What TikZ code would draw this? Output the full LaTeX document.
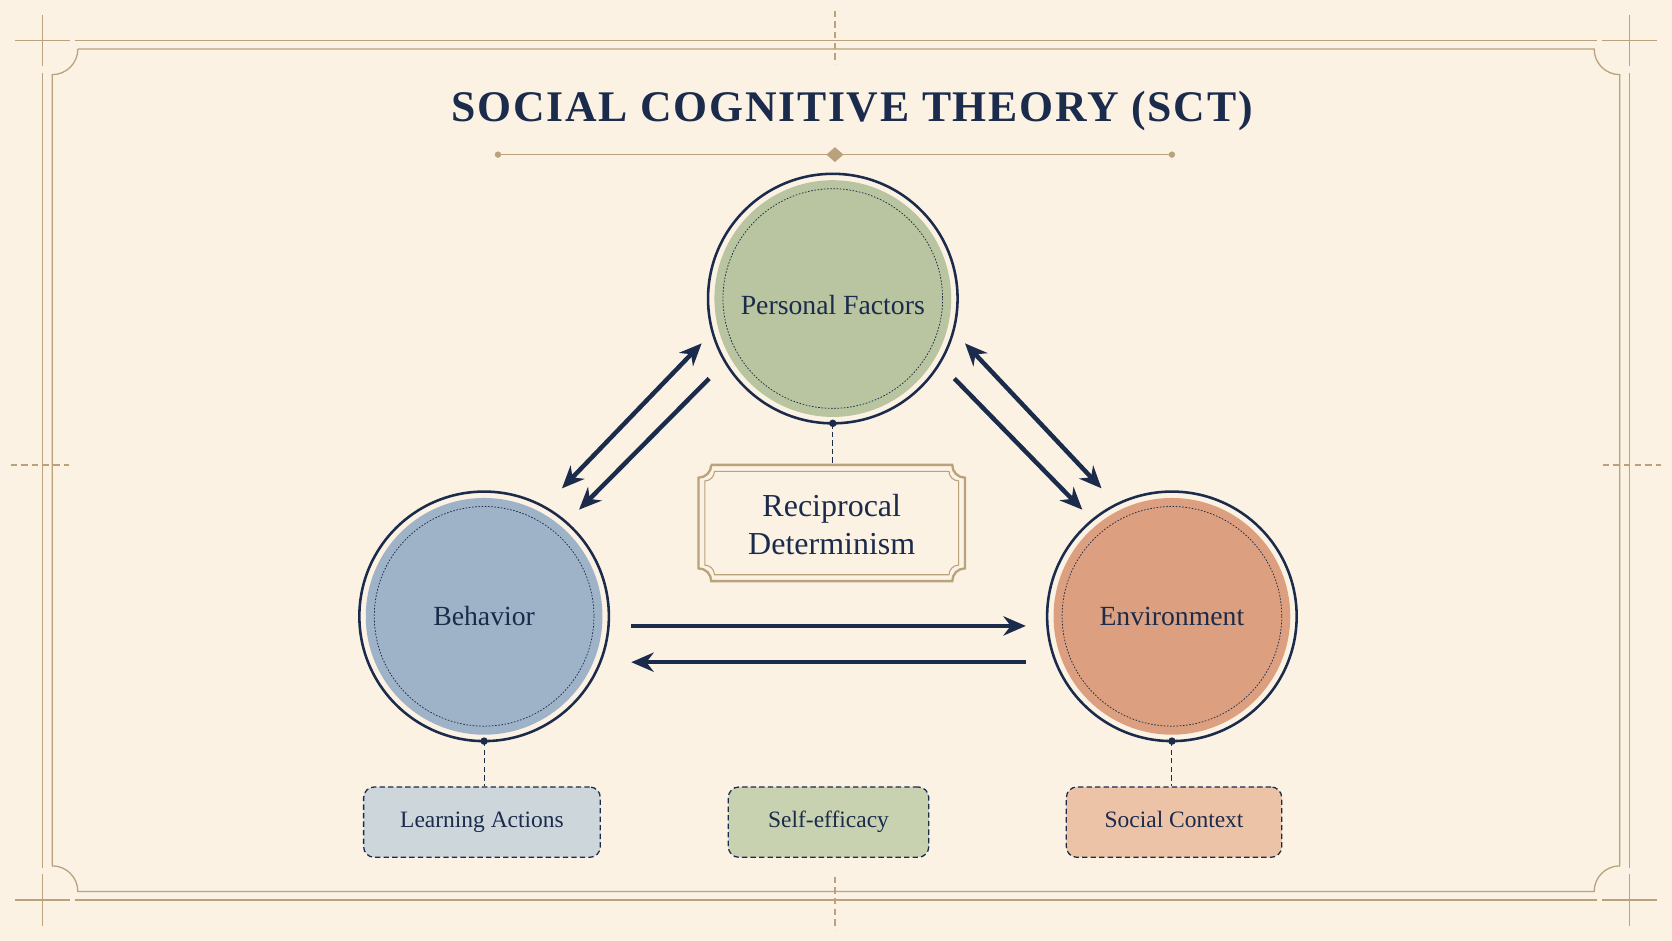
\documentclass[tikz,border=0pt]{standalone}
\usepackage{fontspec}
\setmainfont{Liberation Serif}
\usetikzlibrary{arrows.meta}
\definecolor{bg}{HTML}{FBF2E4}
\definecolor{navy}{HTML}{1B2B4B}
\definecolor{gold}{HTML}{B9A27C}
\definecolor{pgreen}{HTML}{B9C4A0}
\definecolor{pblue}{HTML}{9FB3C8}
\definecolor{porange}{HTML}{DCA080}
\definecolor{lblue}{HTML}{CDD6DB}
\definecolor{lgreen}{HTML}{C8D2B0}
\definecolor{lorange}{HTML}{EDC3A8}
\begin{document}
\begin{tikzpicture}[x=1pt,y=-1pt,
  frame/.style={draw=gold,line width=1.2pt},
  arr/.style={draw=navy,line width=4.2pt,-{Stealth[length=21pt,width=18pt]}},
  darr/.style={draw=navy,line width=4.2pt,{Stealth[length=21pt,width=18pt]}-{Stealth[length=21pt,width=18pt]}},
  conn/.style={draw=navy,line width=1pt,dash pattern=on 5pt off 3pt},
  lab/.style={text=navy,font=\fontsize{26}{30}\selectfont,align=center},
  small/.style={draw=navy,line width=1.2pt,dash pattern=on 5pt off 3pt,rounded corners=10pt,minimum width=#1,minimum height=66pt,text height=15pt,text depth=5pt,text=navy,font=\fontsize{22}{26}\selectfont}]
\fill[bg] (0,0) rectangle (1568,882);
\useasboundingbox (0,0) rectangle (1568,882);
% frame
\draw[frame] (70,38)--(1498,38) (1528,68)--(1528,814) (70,844)--(1498,844) (40,68)--(40,814);
\draw[frame] (73,46)--(1495,46) arc[start angle=180,end angle=90,radius=24] --(1519,812) arc[start angle=-90,end angle=-180,radius=24] --(73,836) arc[start angle=0,end angle=-90,radius=24] -- (49,70) arc[start angle=90,end angle=0,radius=24];
\foreach \x/\y in {40/38,1528/38,40/844,1528/844}{\draw[frame] ([xshift=-26pt]\x,\y)--([xshift=26pt]\x,\y) ([yshift=-24pt]\x,\y)--([yshift=24pt]\x,\y);}
\draw[frame,dash pattern=on 6pt off 4pt] (783,10)--(783,60) (783,822)--(783,872) (10,436)--(65,436) (1503,436)--(1558,436);
% title
\node (title) at (799,104) {\color{navy}\fontsize{41}{46}\selectfont\bfseries\addfontfeatures{LetterSpace=4}SOCIAL COGNITIVE THEORY (SCT)};
\draw[gold,line width=1.5pt] (467,145)--(1099,145);
\fill[gold] (467,145) circle (3pt) (1099,145) circle (3pt) (775,145)--(783,138)--(791,145)--(783,152)--cycle;
% circles
\foreach \n/\x/\y/\c in {pf/781/280/pgreen,be/454/578/pblue,en/1099/578/porange}{
  \fill[bg] (\x,\y) circle (118);
  \draw[navy,line width=2.4pt] (\x,\y) circle (117);
  \fill[\c] (\x,\y) circle (111);
  \draw[navy,line width=0.7pt,dash pattern=on 1.5pt off 1.5pt] (\x,\y) circle (103);
  \coordinate (\n) at (\x,\y);
  \fill[navy] (\x,\y+117) circle (3.5pt);
}
\node[lab] at (781,286) {Personal Factors};
\node[lab] at (be) {Behavior};
\node[lab] at (en) {Environment};
% arrows
\draw[darr] (527,458)--(658,322);
\draw[arr] (665,355)--(543,478);
\draw[darr] (905,322)--(1033,458);
\draw[arr] (895,355)--(1015,478);
\draw[arr] (592,587)--(962,587);
\draw[arr] (962,621)--(592,621);
% reciprocal box
\draw[gold,line width=2.2pt] (667,436)--(893,436) arc[start angle=180,end angle=90,radius=12] --(905,533) arc[start angle=-90,end angle=-180,radius=12] --(667,545) arc[start angle=0,end angle=-90,radius=12] --(655,448) arc[start angle=90,end angle=0,radius=12];
\draw[gold,line width=1pt] (670,442)--(890,442) arc[start angle=180,end angle=90,radius=9] --(899,530) arc[start angle=-90,end angle=-180,radius=9] --(670,539) arc[start angle=0,end angle=-90,radius=9] --(661,451) arc[start angle=90,end angle=0,radius=9];
\node[lab,font=\fontsize{30}{36}\selectfont] (rd) at (780,492) {Reciprocal\\Determinism};
% connectors and small boxes
\node[small=222pt,fill=lblue] (la) at (452,771) {Learning Actions};
\node[small=188pt,fill=lgreen] (se) at (777,771) {Self-efficacy};
\node[small=202pt,fill=lorange] (sc) at (1101,771) {Social Context};
\coordinate (rdt) at (781,436);
\draw[conn] (781,397)--(rdt);
\draw[conn] (454,695)--(la.north -| 454,0);
\draw[conn] (1099,695)--(sc.north -| 1099,0);
\end{tikzpicture}
\end{document}
